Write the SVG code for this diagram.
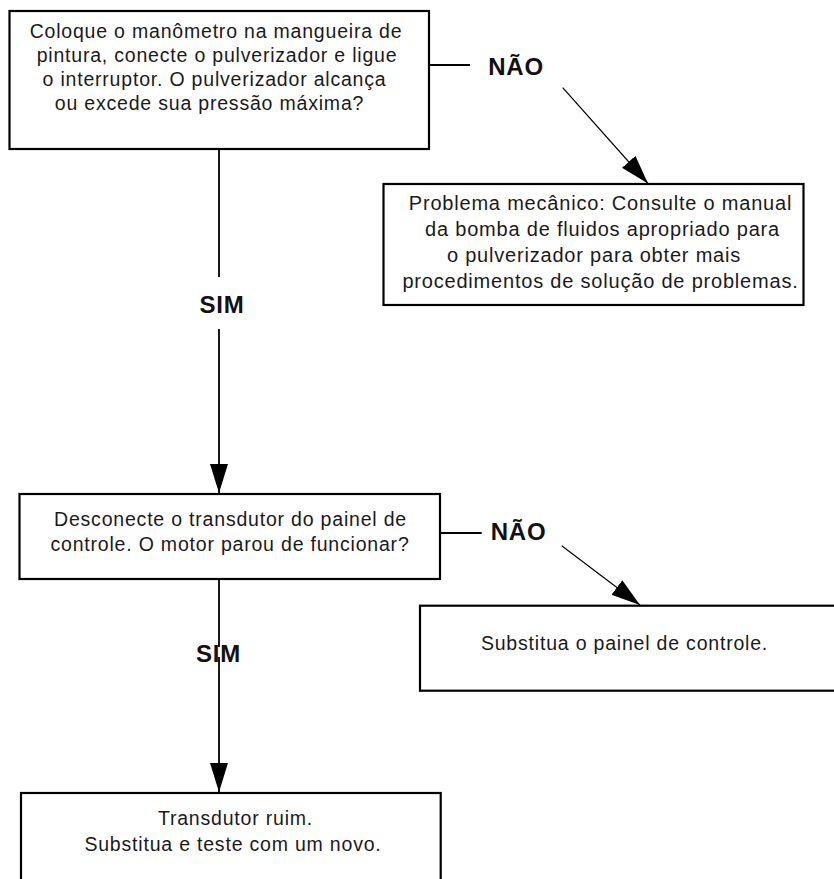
<svg xmlns="http://www.w3.org/2000/svg" width="834" height="879" viewBox="0 0 834 879">
<style>
.box{fill:#fff;stroke:#000;stroke-width:2.2}
.t{font-family:"Liberation Sans",Arial,sans-serif;font-size:19.5px;letter-spacing:0.8px;fill:#1a1a1a;text-anchor:middle}
.t2{font-size:20px}
.lbl{font-family:"Liberation Sans",Arial,sans-serif;font-size:24px;font-weight:bold;letter-spacing:0.8px;fill:#111;text-anchor:middle}
.c{stroke:#000;stroke-width:1.8;fill:none}
.d{stroke:#000;stroke-width:1.2;fill:none}
</style>
<defs>
<marker id="ah" markerUnits="userSpaceOnUse" markerWidth="30" markerHeight="20" refX="29" refY="9" orient="auto">
<path d="M0,0 L29,9 L0,18 z" fill="#000"/>
</marker>
</defs>
<rect width="834" height="879" fill="#fff"/>
<g id="connectors">
<line class="c" x1="219" y1="149" x2="219" y2="277"/>
<line class="c" x1="219" y1="329" x2="219" y2="493" marker-end="url(#ah)"/>
<line class="c" x1="429" y1="65" x2="470" y2="65"/>
<line class="d" x1="562.7" y1="87.7" x2="648" y2="183.5" marker-end="url(#ah)"/>
<line class="c" x1="219" y1="579" x2="219" y2="647"/>
<line class="c" x1="219" y1="657" x2="219" y2="792" marker-end="url(#ah)"/>
<line class="c" x1="440" y1="533" x2="481.7" y2="533"/>
<line class="d" x1="561.7" y1="545.7" x2="640" y2="605" marker-end="url(#ah)"/>
</g>
<g id="labels">
<text class="lbl" x="516" y="75">NÃO</text>
<text class="lbl" x="222" y="312.7">SIM</text>
<text class="lbl" x="518.5" y="540">NÃO</text>
<text class="lbl" x="218.5" y="661.7">SIM</text>
</g>
<g id="n1">
<rect class="box" x="9.5" y="11" width="419.5" height="138"/>
<text class="t" x="216" y="37.7">Coloque o manômetro na mangueira de</text>
<text class="t" x="217" y="61.7">pintura, conecte o pulverizador e ligue</text>
<text class="t" x="214.5" y="86">o interruptor. O pulverizador alcança</text>
<text class="t" x="209.5" y="110">ou excede sua pressão máxima?</text>
</g>
<g id="n2">
<rect class="box" x="383.5" y="184" width="420" height="121"/>
<text class="t t2" x="600.5" y="210">Problema mecânico: Consulte o manual</text>
<text class="t t2" x="602.5" y="236.3">da bomba de fluidos apropriado para</text>
<text class="t t2" x="594" y="262.3">o pulverizador para obter mais</text>
<text class="t t2" x="600.5" y="288">procedimentos de solução de problemas.</text>
</g>
<g id="n3">
<rect class="box" x="19.5" y="494" width="420.5" height="85"/>
<text class="t" x="230.5" y="526.3">Desconecte o transdutor do painel de</text>
<text class="t" x="230" y="550.7">controle. O motor parou de funcionar?</text>
</g>
<g id="n4">
<rect class="box" x="21" y="793" width="419.7" height="100"/>
<text class="t" x="235.5" y="825">Transdutor ruim.</text>
<text class="t" x="233" y="850.7">Substitua e teste com um novo.</text>
</g>
<g id="n5">
<rect class="box" x="420" y="605.7" width="420" height="85"/>
<text class="t" x="624.5" y="650">Substitua o painel de controle.</text>
</g>
</svg>
